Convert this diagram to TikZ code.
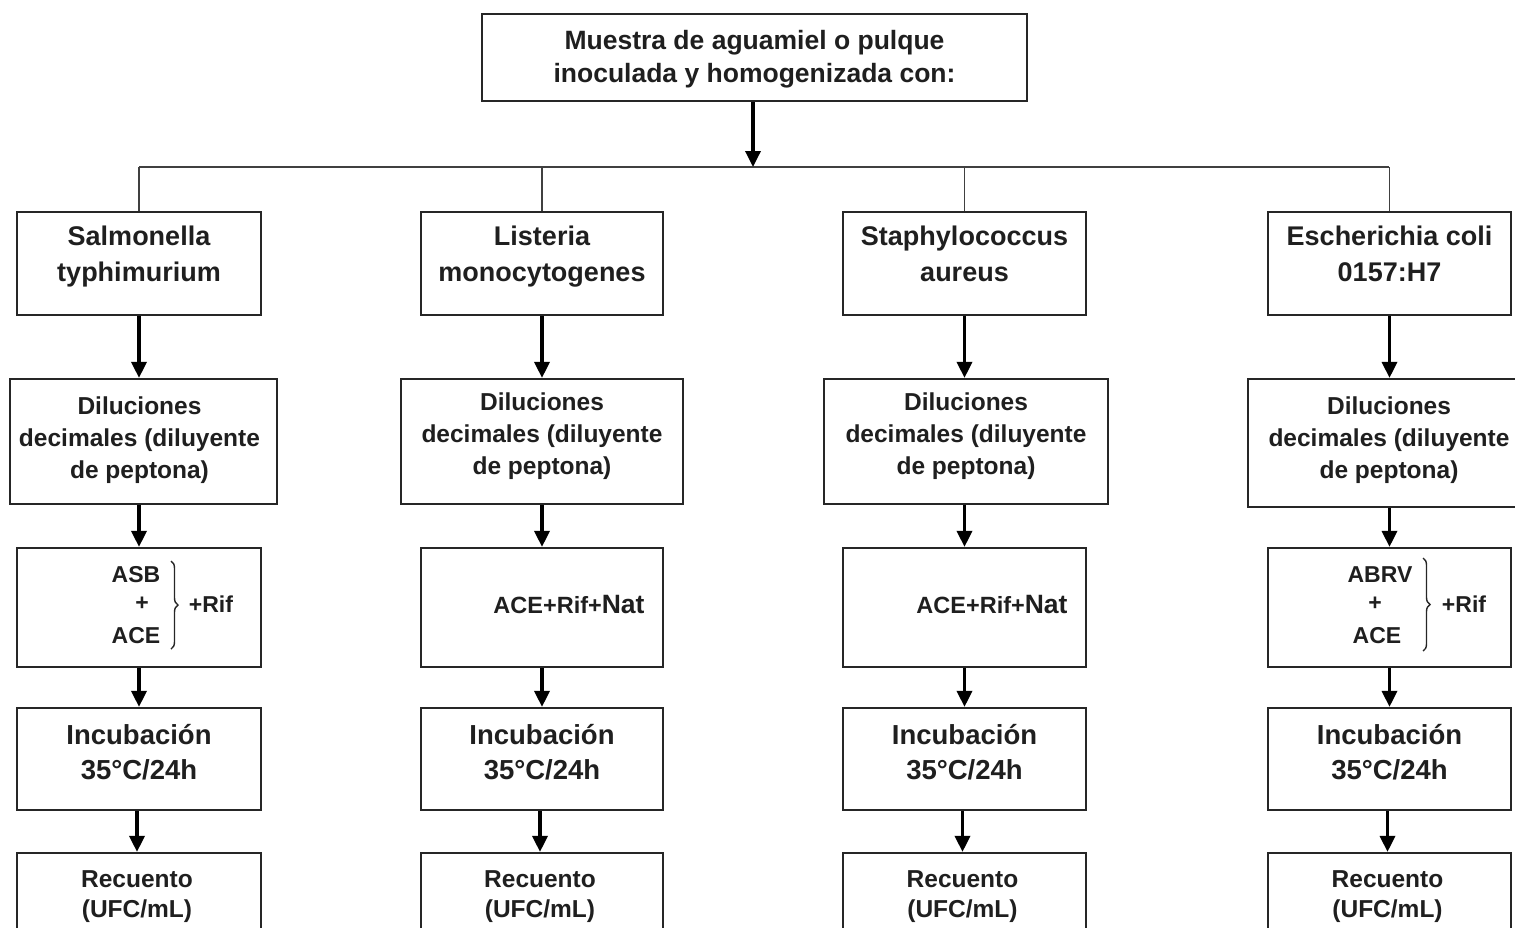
\documentclass[tikz,border=0pt]{standalone}
\usepackage{fontspec}
\setmainfont{Liberation Sans}
\usetikzlibrary{arrows.meta,decorations.pathreplacing}
\begin{document}
\begin{tikzpicture}[x=1pt,y=-1pt,
  box/.style={draw=black!85, line width=2.2pt, inner sep=0pt},
  txt/.style={inner sep=0pt, align=center, text=black!88},
  fsp/.style={txt, font=\bfseries\fontsize{27}{36}\selectfont},
  fdil/.style={txt, font=\bfseries\fontsize{24.5}{32}\selectfont},
  finc/.style={txt, font=\bfseries\fontsize{27.5}{35}\selectfont},
  frec/.style={txt, font=\bfseries\fontsize{24.5}{30}\selectfont},
  fmed/.style={txt, font=\bfseries\fontsize{23}{26}\selectfont},
  arr/.style={draw=black, line width=3.4pt, -{Triangle[length=16pt,width=15pt]}},
  branch/.style={draw=black!75, line width=1.5pt},
  brc/.style={draw=black!85, line width=1.4pt, decorate, decoration={brace, amplitude=7pt}}]
\useasboundingbox (0,0) rectangle (1515,927);
\clip (0,0) rectangle (1515,927);

% top
\node[box, minimum width=545pt, minimum height=87pt] (top) at (754.5,57.5) {};
\node[txt, font=\bfseries\fontsize{26.5}{33}\selectfont] (topt) at ([yshift=-2pt]top.center)
  {Muestra de aguamiel o pulque\\inoculada y homogenizada con:};
\coordinate (j) at (753,167);
\coordinate (b1) at (139,167);
\coordinate (b4) at (1389,167);
\draw[branch] (b1) -- (b4);
\draw[arr] (top.south -| j) -- (j);

% species
\node[box, minimum width=244pt, minimum height=103pt] (s1) at (139,263.5) {};
\node[box, minimum width=242pt, minimum height=103pt] (s2) at (542,263.5) {};
\node[box, minimum width=243pt, minimum height=103pt] (s3) at (964.5,263.5) {};
\node[box, minimum width=243pt, minimum height=103pt] (s4) at (1389.5,263.5) {};
\node[fsp] (s1t) at ([yshift=7pt]s1.center) {Salmonella\\typhimurium};
\node[fsp] (s2t) at ([yshift=7pt]s2.center) {Listeria\\monocytogenes};
\node[fsp] (s3t) at ([yshift=10pt]s3.center) {Staphylococcus\\aureus};
\node[fsp] (s4t) at ([yshift=10pt]s4.center) {Escherichia coli\\0157:H7};
\foreach \i in {1,2,3,4} {\draw[branch] (s\i.north |- j) -- (s\i.north);}

% dilutions
\node[box, minimum width=267pt, minimum height=125pt] (d1) at (143.5,441.5) {};
\node[box, minimum width=282pt, minimum height=125pt] (d2) at (542,441.5) {};
\node[box, minimum width=284pt, minimum height=125pt] (d3) at (966,441.5) {};
\node[box, minimum width=282pt, minimum height=128pt] (d4) at (1389,443) {};
\node[fdil] (d1t) at ([xshift=-4pt,yshift=1pt]d1.center) {Diluciones\\decimales (diluyente\\de peptona)};
\node[fdil] (d2t) at ([yshift=5pt]d2.center) {Diluciones\\decimales (diluyente\\de peptona)};
\node[fdil] (d3t) at ([yshift=5pt]d3.center) {Diluciones\\decimales (diluyente\\de peptona)};
\node[fdil] (d4t) at ([yshift=3pt]d4.center) {Diluciones\\decimales (diluyente\\de peptona)};

% media
\node[box, minimum width=244pt, minimum height=119pt] (m1) at (139,607.5) {};
\node[box, minimum width=242pt, minimum height=119pt] (m2) at (542,607.5) {};
\node[box, minimum width=243pt, minimum height=119pt] (m3) at (964.5,607.5) {};
\node[box, minimum width=243pt, minimum height=119pt] (m4) at (1389.5,607.5) {};

\node[fmed] (m1a) at (136,575) {ASB};
\node[fmed] (m1b) at (142,604) {+};
\node[fmed] (m1c) at (136,636) {ACE};
\draw[brc] (171,561) -- (171,649);
\node[fmed] (m1r) at (211,604) {+Rif};

\node[fmed, font=\bfseries\fontsize{23.5}{28}\selectfont] (m2a) at (569,605) {ACE+Rif+{\fontsize{26.5}{28}\selectfont Nat}};
\node[fmed, font=\bfseries\fontsize{23.5}{28}\selectfont] (m3a) at (992,605) {ACE+Rif+{\fontsize{26.5}{28}\selectfont Nat}};

\node[fmed] (m4a) at (1380,575) {ABRV};
\node[fmed] (m4b) at (1375,604) {+};
\node[fmed] (m4c) at (1377,636) {ACE};
\draw[brc] (1423,558) -- (1423,651);
\node[fmed] (m4r) at (1464,604) {+Rif};

% incubation
\node[box, minimum width=244pt, minimum height=102pt] (i1) at (139,759) {};
\node[box, minimum width=242pt, minimum height=102pt] (i2) at (542,759) {};
\node[box, minimum width=243pt, minimum height=102pt] (i3) at (964.5,759) {};
\node[box, minimum width=243pt, minimum height=102pt] (i4) at (1389.5,759) {};
\foreach \i in {1,2,3,4} {\node[finc] (i\i t) at ([yshift=7pt]i\i.center) {Incubación\\35°C/24h};}

% counts
\node[box, minimum width=244pt, minimum height=90pt] (r1) at (139,898) {};
\node[box, minimum width=242pt, minimum height=90pt] (r2) at (542,898) {};
\node[box, minimum width=243pt, minimum height=90pt] (r3) at (964.5,898) {};
\node[box, minimum width=243pt, minimum height=90pt] (r4) at (1389.5,898) {};
\foreach \i in {1,2,3,4} {\node[frec] (r\i t) at ([xshift=-2pt,yshift=1pt]r\i.center) {Recuento\\(UFC/mL)};}

% arrows
\foreach \i in {1,2,3,4} {
  \draw[arr] (s\i.south) -- (s\i.south |- d\i.north);
  \draw[arr] (s\i.south |- d\i.south) -- (s\i.south |- m\i.north);
  \draw[arr] (m\i.south) -- (i\i.north);
  \draw[arr] ([xshift=-2pt]i\i.south) -- ([xshift=-2pt]i\i.south |- r\i.north);
}
\end{tikzpicture}
\end{document}
